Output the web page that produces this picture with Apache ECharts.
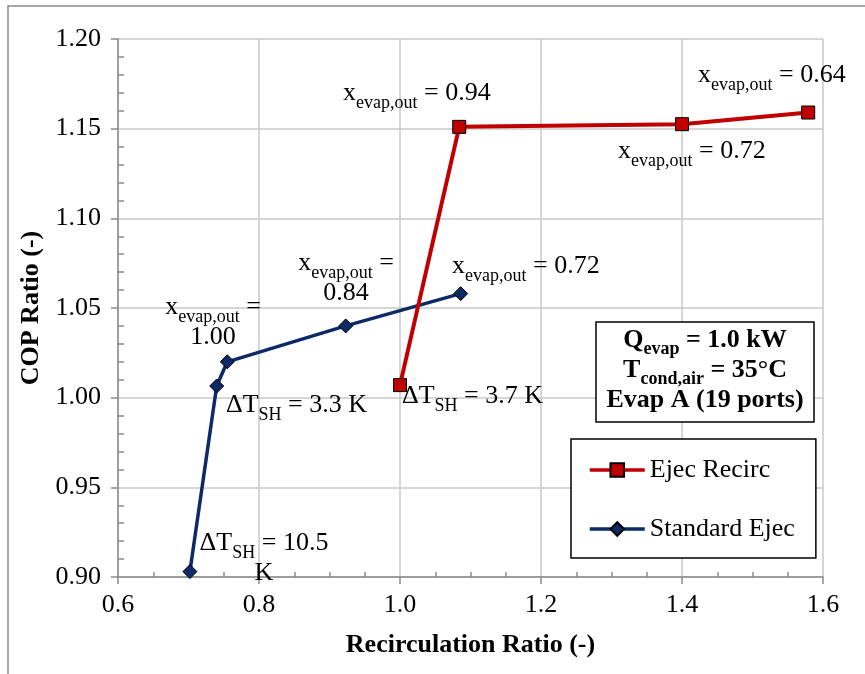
<!DOCTYPE html>
<html>
<head>
<meta charset="utf-8">
<script src="https://cdn.jsdelivr.net/npm/echarts@6/dist/echarts.min.js"></script>
<style>
html,body{margin:0;padding:0;background:#fff;}
#chart{width:865px;height:674px;}
</style>
</head>
<body>
<div id="chart"></div>
<script>
// ---- data ----
const seriesNames = ['Ejec Recirc', 'Standard Ejec'];
const recircX = [1.000, 1.084, 1.400, 1.579];
const recircY = [1.007, 1.151, 1.1525, 1.159];
const stdX = [0.702, 0.740, 0.755, 0.923, 1.086];
const stdY = [0.903, 1.0065, 1.020, 1.040, 1.058];
const xTickLabels = ['0.6', '0.8', '1.0', '1.2', '1.4', '1.6'];
const yTickLabels = ['0.90', '0.95', '1.00', '1.05', '1.10', '1.15', '1.20'];
const xTitle = 'Recirculation Ratio (-)';
const yTitle = 'COP Ratio (-)';

const FONT = '"Liberation Serif", "Times New Roman", serif';

const rich = {
  m: {fontFamily: FONT, fontSize: 26, lineHeight: 30, verticalAlign: 'top', color: '#000'},
  s: {fontFamily: FONT, fontSize: 18, lineHeight: 18, padding: [14, 0, 0, 0], verticalAlign: 'top', color: '#000'},
  mb: {fontFamily: FONT, fontSize: 26, fontWeight: 'bold', lineHeight: 30, verticalAlign: 'top', color: '#000'},
  sb: {fontFamily: FONT, fontSize: 18, fontWeight: 'bold', lineHeight: 18, padding: [13, 0, 0, 0], verticalAlign: 'top', color: '#000'}
};

function ann(x, y, text, align) {
  return {
    type: 'text', x: x, y: y, z: 50,
    style: {text: text, rich: rich, align: align || 'left', verticalAlign: 'top'}
  };
}

const chart = echarts.init(document.getElementById('chart'));
chart.setOption({
  animation: false,
  backgroundColor: '#fff',
  grid: {left: 118, right: 42, top: 39, bottom: 97},
  xAxis: {
    type: 'value', min: 0.6, max: 1.6, interval: 0.2,
    name: xTitle, nameLocation: 'middle', nameGap: 55,
    nameTextStyle: {fontFamily: FONT, fontSize: 26, fontWeight: 'bold', color: '#000'},
    axisLine: {lineStyle: {color: '#8a8a8a', width: 1.5}},
    axisTick: {length: 7, lineStyle: {color: '#8a8a8a', width: 1.5}},
    minorTick: {show: true, splitNumber: 4, length: -5, lineStyle: {color: '#8a8a8a', width: 1.5}},
    splitLine: {show: true, lineStyle: {color: '#c8c8c8', width: 1.5}},
    axisLabel: {
      fontFamily: FONT, fontSize: 26, color: '#000', margin: 15,
      formatter: v => xTickLabels[Math.round((v - 0.6) / 0.2)]
    }
  },
  yAxis: {
    type: 'value', min: 0.9, max: 1.2, interval: 0.05,
    name: yTitle, nameLocation: 'middle', nameGap: 73, nameRotate: 90,
    nameTextStyle: {fontFamily: FONT, fontSize: 26, fontWeight: 'bold', color: '#000'},
    axisLine: {show: true, lineStyle: {color: '#8a8a8a', width: 1.5}},
    axisTick: {show: true, length: 7, lineStyle: {color: '#8a8a8a', width: 1.5}},
    minorTick: {show: true, splitNumber: 5, length: -6, lineStyle: {color: '#8a8a8a', width: 1.5}},
    splitLine: {show: true, lineStyle: {color: '#c8c8c8', width: 1.5}},
    axisLabel: {
      fontFamily: FONT, fontSize: 26, color: '#000', margin: 17,
      formatter: v => yTickLabels[Math.round((v - 0.9) / 0.05)]
    }
  },
  legend: {
    orient: 'vertical', left: 571, top: 439,
    padding: [18, 21, 16, 17],
    itemWidth: 55, itemHeight: 17, itemGap: 33,
    borderColor: '#000', borderWidth: 1.5, backgroundColor: '#fff',
    lineStyle: {width: 3.5},
    textStyle: {fontFamily: FONT, fontSize: 26, color: '#000', lineHeight: 26},
    data: seriesNames
  },
  series: [
    {
      name: seriesNames[0], type: 'line',
      data: recircX.map((x, i) => [x, recircY[i]]),
      symbol: 'rect', symbolSize: 13,
      itemStyle: {color: '#c00000', borderColor: '#000', borderWidth: 1},
      lineStyle: {color: '#c00000', width: 4},
      z: 3
    },
    {
      name: seriesNames[1], type: 'line',
      data: stdX.map((x, i) => [x, stdY[i]]),
      symbol: 'diamond', symbolSize: 14,
      itemStyle: {color: '#0b2a66', borderColor: '#000', borderWidth: 1},
      lineStyle: {color: '#0b2a66', width: 3.5},
      z: 2
    }
  ],
  graphic: [
    {type: 'rect', silent: true, shape: {x: 8, y: 6, width: 900, height: 700},
     style: {fill: 'none', stroke: '#8a8a8a', lineWidth: 1.5}},
    ann(343, 80, '{m|x}{s|evap,out}{m| = 0.94}'),
    ann(698, 62, '{m|x}{s|evap,out}{m| = 0.64}'),
    ann(618, 138, '{m|x}{s|evap,out}{m| = 0.72}'),
    ann(452, 253, '{m|x}{s|evap,out}{m| = 0.72}'),
    ann(346, 250, '{m|x}{s|evap,out}{m| =}\n{m|0.84}', 'center'),
    ann(213, 294, '{m|x}{s|evap,out}{m| =}\n{m|1.00}', 'center'),
    ann(226, 392, '{m|ΔT}{s|SH}{m| = 3.3 K}'),
    ann(402, 383, '{m|ΔT}{s|SH}{m| = 3.7 K}'),
    ann(264, 530, '{m|ΔT}{s|SH}{m| = 10.5}\n{m|K}', 'center'),
    {type: 'rect', z: 50, shape: {x: 596, y: 322, width: 218, height: 100},
     style: {fill: '#fff', stroke: '#000', lineWidth: 1.5}},
    {type: 'text', z: 51, x: 705, y: 327,
     style: {
       text: '{mb|Q}{sb|evap}{mb| = 1.0 kW}\n{mb|T}{sb|cond,air}{mb| = 35°C}\n{mb|Evap A (19 ports)}',
       rich: rich, align: 'center', verticalAlign: 'top'
     }}
  ]
});
</script>
</body>
</html>
